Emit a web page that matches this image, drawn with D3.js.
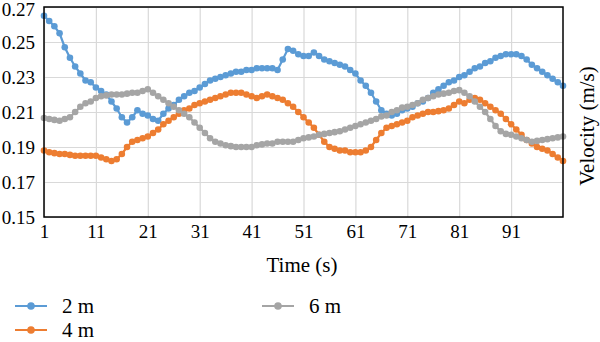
<!DOCTYPE html>
<html><head><meta charset="utf-8">
<script src="https://cdn.jsdelivr.net/npm/d3@7"></script>
<style>body{margin:0;background:#fff}svg{display:block}text{font-family:"Liberation Serif","DejaVu Serif",serif;fill:#000}</style>
</head><body><svg id="c" width="600" height="342"></svg>
<script>
const times = d3.range(1, 102);
const xTicks = [1, 11, 21, 31, 41, 51, 61, 71, 81, 91];
const yTicks = [0.15, 0.17, 0.19, 0.21, 0.23, 0.25, 0.27];
const seriesNames = ["2 m", "4 m", "6 m"];
const seriesColors = ["#5B9BD5", "#ED7D31", "#A5A5A5"];
const v2m = [0.265,0.262,0.259,0.255,0.247,0.241,0.236,0.232,0.228,0.227,0.224,0.222,0.220,0.216,0.212,0.207,0.204,0.207,0.211,0.209,0.208,0.206,0.205,0.209,0.212,0.214,0.217,0.219,0.221,0.222,0.224,0.226,0.228,0.229,0.230,0.231,0.232,0.233,0.233,0.234,0.234,0.235,0.235,0.235,0.235,0.234,0.240,0.246,0.245,0.243,0.242,0.242,0.244,0.242,0.240,0.239,0.238,0.237,0.236,0.234,0.232,0.228,0.225,0.221,0.216,0.211,0.209,0.208,0.209,0.211,0.212,0.213,0.215,0.216,0.218,0.221,0.223,0.225,0.227,0.228,0.230,0.231,0.233,0.235,0.236,0.238,0.239,0.241,0.242,0.243,0.243,0.243,0.242,0.240,0.237,0.235,0.233,0.231,0.229,0.227,0.225];
const v4m = [0.188,0.187,0.1865,0.186,0.186,0.1855,0.185,0.185,0.185,0.185,0.185,0.184,0.183,0.182,0.183,0.186,0.190,0.193,0.194,0.195,0.196,0.198,0.200,0.203,0.205,0.207,0.209,0.211,0.212,0.214,0.215,0.216,0.217,0.218,0.219,0.220,0.221,0.221,0.221,0.220,0.219,0.218,0.219,0.220,0.219,0.218,0.217,0.215,0.213,0.210,0.207,0.204,0.201,0.197,0.193,0.190,0.189,0.188,0.188,0.187,0.187,0.187,0.188,0.190,0.194,0.198,0.201,0.202,0.203,0.204,0.205,0.207,0.208,0.209,0.210,0.210,0.2105,0.211,0.212,0.214,0.216,0.215,0.217,0.218,0.217,0.215,0.213,0.211,0.209,0.206,0.203,0.200,0.197,0.194,0.192,0.190,0.189,0.188,0.186,0.184,0.182];
const v6m = [0.2066,0.206,0.2055,0.205,0.206,0.207,0.210,0.213,0.215,0.216,0.218,0.219,0.2195,0.220,0.220,0.220,0.2205,0.221,0.221,0.222,0.223,0.221,0.219,0.217,0.215,0.213,0.211,0.209,0.207,0.204,0.201,0.198,0.195,0.193,0.192,0.191,0.1905,0.190,0.190,0.190,0.190,0.191,0.1915,0.192,0.192,0.193,0.193,0.193,0.193,0.194,0.195,0.1955,0.196,0.197,0.1975,0.198,0.1985,0.199,0.200,0.201,0.202,0.203,0.204,0.205,0.206,0.2075,0.208,0.210,0.211,0.2125,0.213,0.214,0.215,0.217,0.218,0.219,0.220,0.2205,0.221,0.222,0.2225,0.221,0.219,0.216,0.213,0.210,0.206,0.202,0.199,0.1975,0.197,0.196,0.195,0.194,0.193,0.1935,0.194,0.1945,0.195,0.1955,0.196];
const seriesValues = [v2m, v4m, v6m];

const svg = d3.select("#c");
const L = 44, R = 563, T = 7, B = 217;
const x = d3.scaleLinear().domain([1, 101]).range([L, R]);
const y = d3.scaleLinear().domain([0.15, 0.27]).range([B, T]);

// gridlines
svg.append("g").attr("transform", `translate(0,${B})`)
  .call(d3.axisBottom(x).tickValues(xTicks).tickSize(-(B - T)).tickFormat(""))
  .call(g => g.select(".domain").remove())
  .call(g => g.selectAll("line").attr("stroke", "#d9d9d9").attr("stroke-width", 1.2));
svg.append("g").attr("transform", `translate(${L},0)`)
  .call(d3.axisLeft(y).tickValues(yTicks).tickSize(-(R - L)).tickFormat(""))
  .call(g => g.select(".domain").remove())
  .call(g => g.selectAll("line").attr("stroke", "#d9d9d9").attr("stroke-width", 1.2));

// tick labels
svg.append("g").attr("transform", `translate(0,${B})`)
  .call(d3.axisBottom(x).tickValues(xTicks).tickSize(0).tickPadding(8).tickFormat(d3.format("d")))
  .call(g => g.select(".domain").remove())
  .call(g => g.selectAll("text").attr("font-size", 19).attr("font-family", "Liberation Serif"));
svg.append("g").attr("transform", `translate(${L},0)`)
  .call(d3.axisLeft(y).tickValues(yTicks).tickSize(0).tickPadding(9).tickFormat(d3.format(".2f")))
  .call(g => g.select(".domain").remove())
  .call(g => g.selectAll("text").attr("font-size", 19).attr("font-family", "Liberation Serif"))
  .call(g => g.selectAll("text").filter(d => d === 0.27).attr("dy", "0.45em"));

// series
const line = d3.line().x((d, i) => x(times[i])).y(d => y(d));
seriesValues.forEach((vals, k) => {
  const g = svg.append("g");
  g.append("path").datum(vals).attr("d", line).attr("fill", "none")
    .attr("stroke", seriesColors[k]).attr("stroke-width", 2.2);
  g.selectAll("circle").data(vals).join("circle")
    .attr("cx", (d, i) => x(times[i])).attr("cy", d => y(d)).attr("r", 3.3)
    .attr("fill", seriesColors[k]);
});

// frame
svg.append("rect").attr("x", L).attr("y", T).attr("width", R - L).attr("height", B - T)
  .attr("fill", "none").attr("stroke", "#000").attr("stroke-width", 1.5);

// axis titles
svg.append("text").attr("x", 302).attr("y", 272).attr("text-anchor", "middle")
  .attr("font-size", 21).text("Time (s)");
svg.append("text").attr("transform", `translate(594,126) rotate(-90)`)
  .attr("text-anchor", "middle").attr("font-size", 21).text("Velocity (m/s)");

// legend
const legPos = [[15, 306], [15, 330], [262, 306]];
seriesNames.forEach((name, k) => {
  const [lx, ly] = legPos[k];
  const g = svg.append("g").attr("transform", `translate(${lx},${ly})`);
  g.append("line").attr("x1", 0).attr("x2", 32).attr("y1", 0).attr("y2", 0)
    .attr("stroke", seriesColors[k]).attr("stroke-width", 2);
  g.append("circle").attr("cx", 16).attr("cy", 0).attr("r", 3.8).attr("fill", seriesColors[k]);
  g.append("text").attr("x", 47).attr("y", 7).attr("font-size", 21).text(name);
});
</script></body></html>
